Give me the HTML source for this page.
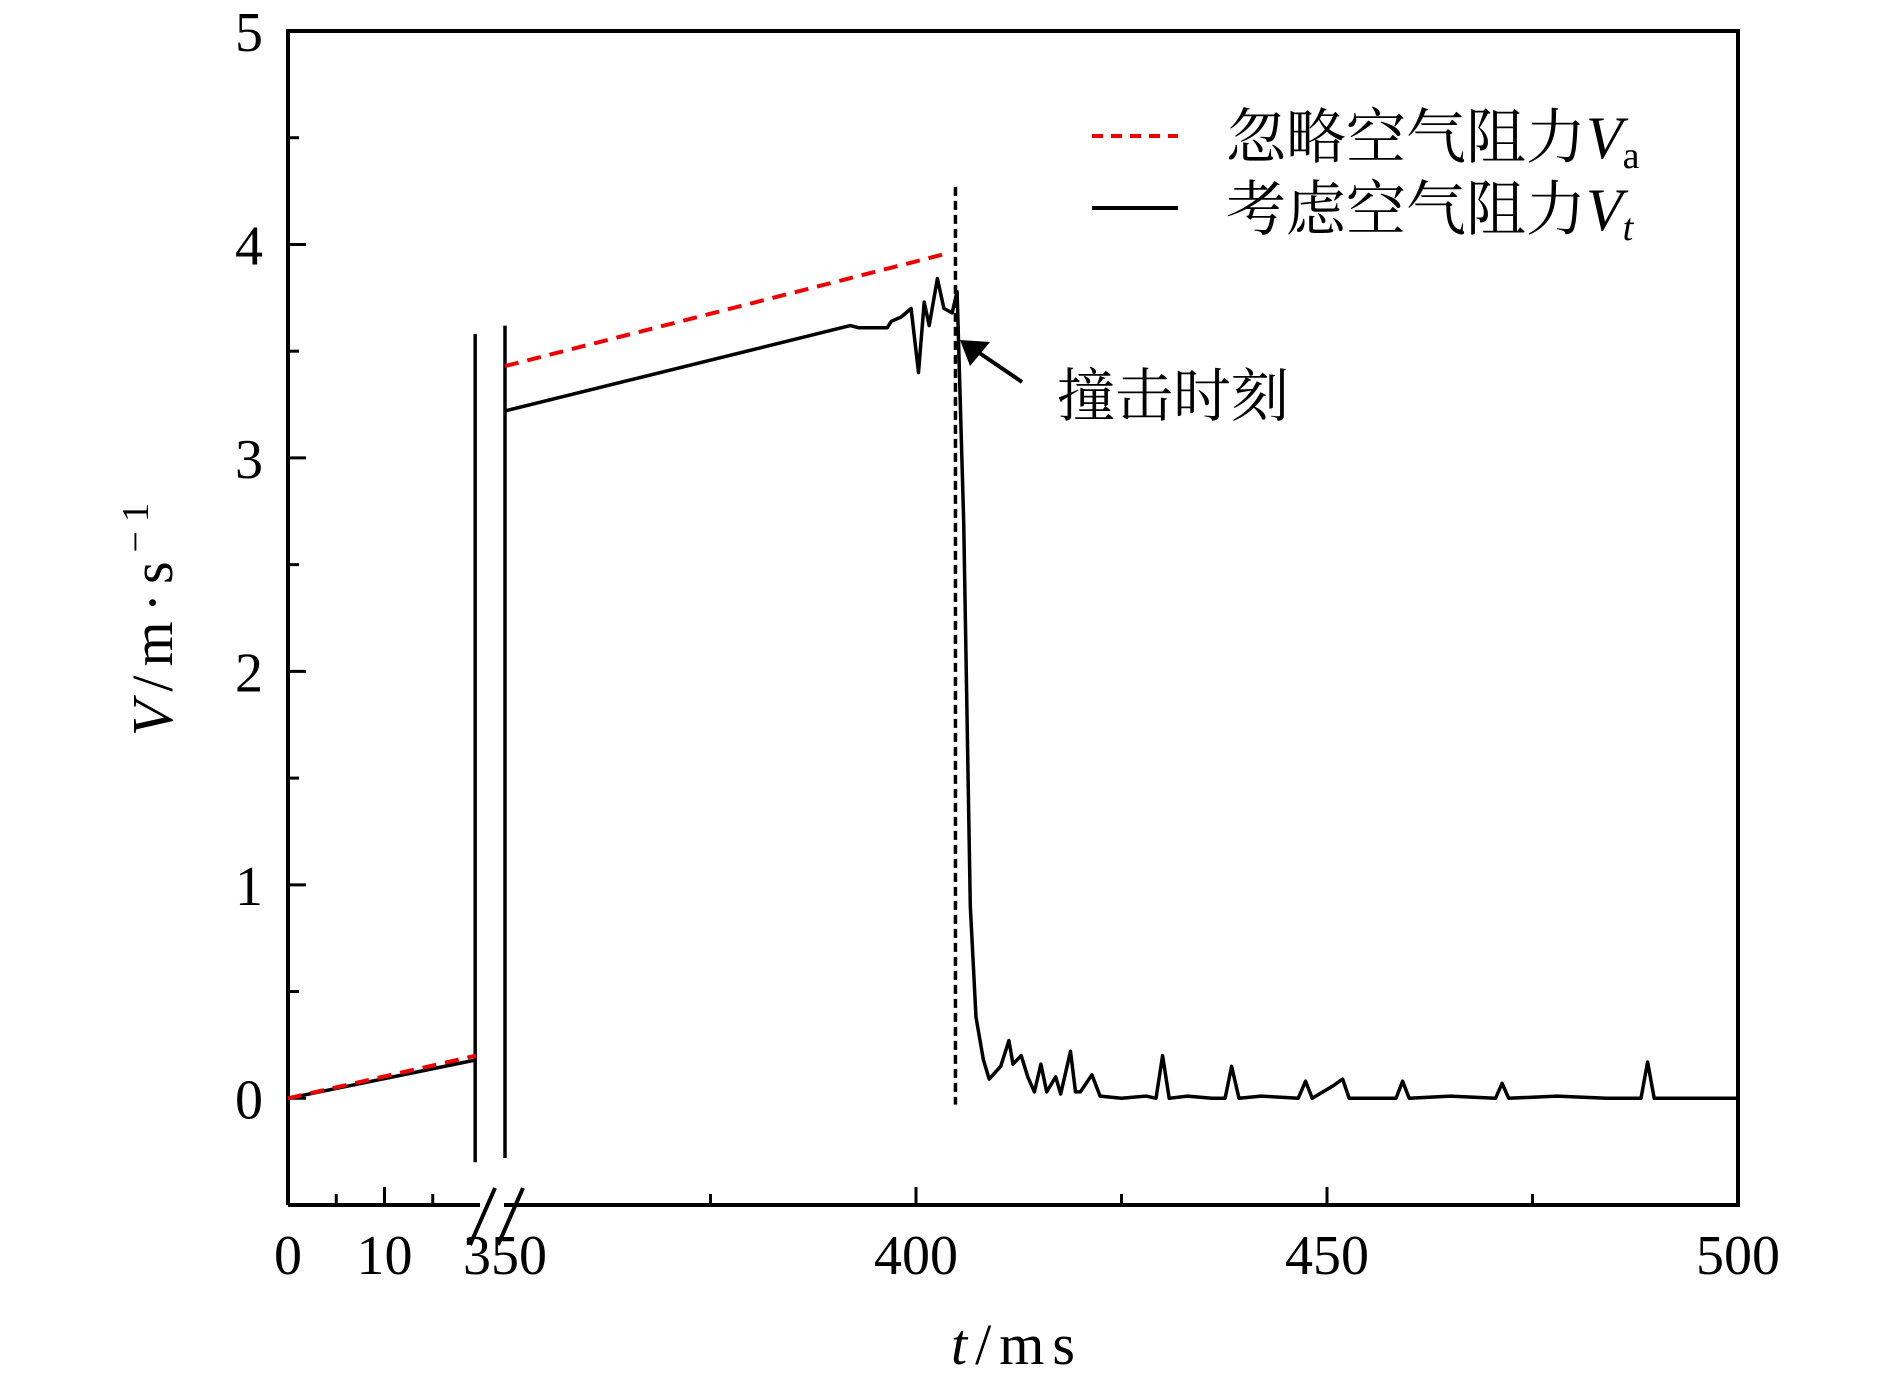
<!DOCTYPE html>
<html><head><meta charset="utf-8">
<style>
html,body{margin:0;padding:0;background:#fff;}
svg{display:block;}
text{font-family:"Liberation Serif","Noto Serif CJK SC",serif;fill:#000;}
.cjk{font-family:"Noto Serif CJK SC","Liberation Serif",serif;}
</style></head>
<body>
<svg id="chart" width="1890" height="1394" viewBox="0 0 1890 1394" xmlns="http://www.w3.org/2000/svg">
<g id="plot"></g>
</svg>
<script>
// ---- data ----
const yTicks = [0, 1, 2, 3, 4, 5];
const yMinorTicks = [0.5, 1.5, 2.5, 3.5, 4.5];
const xTicksSeg1 = [0, 10];
const xMinorSeg1 = [5, 15];
const xTicksSeg2 = [350, 400, 450, 500];
const xMinorSeg2 = [375, 425, 475];
const seg1T = [0, 19.5];
const seg1Va = [0, 0.2];
const seg1Vt = [0, 0.18];
const seg2VaT = [350, 404];
const seg2Va = [3.43, 3.96];
const vtT = [350, 392, 393, 396.5, 397, 398.2, 399.4, 400.3, 401, 401.6, 402.6, 403.4, 404.4, 405, 405.8, 406.6, 407.3, 408.2, 408.9, 410.3, 411.3, 411.8, 412.8, 413.6, 414.4, 415.2, 415.9, 417, 417.6, 418.8, 419.4, 420, 421.4, 422.4, 425, 428, 429.2, 430, 430.8, 433, 436, 437.6, 438.4, 439.3, 442, 446.5, 447.4, 448.2, 450.8, 451.9, 452.7, 458.4, 459.2, 460, 465, 470.5, 471.3, 472.1, 478, 484, 488.2, 489, 489.8, 495, 500];
const vtV = [3.22, 3.62, 3.61, 3.61, 3.64, 3.66, 3.70, 3.40, 3.73, 3.62, 3.84, 3.70, 3.68, 3.78, 2.7, 0.9, 0.38, 0.18, 0.09, 0.15, 0.27, 0.16, 0.2, 0.1, 0.03, 0.16, 0.03, 0.1, 0.02, 0.22, 0.03, 0.03, 0.11, 0.01, 0.0, 0.01, 0.0, 0.2, 0.0, 0.01, 0.0, 0.0, 0.15, 0.0, 0.01, 0.0, 0.08, 0.0, 0.06, 0.09, 0.0, 0.0, 0.08, 0.0, 0.01, 0.0, 0.07, 0.0, 0.01, 0.0, 0.0, 0.17, 0.0, 0.0, 0.0];
const impactT = 404.8;

// ---- axes ----
const L = 288, R = 1738, T = 31, B = 1205;
const yMin = -0.5, yMax = 5;
const s1x0 = 288, s1k = 9.65;
const s2x0 = 505, s2k = (R - 505) / 150;
function Y(v) { return B - (v - yMin) / (yMax - yMin) * (B - T); }
function X1(t) { return s1x0 + t * s1k; }
function X2(t) { return s2x0 + (t - 350) * s2k; }

const NS = 'http://www.w3.org/2000/svg';
const g = document.getElementById('plot');
function mk(tag, attrs, parent) {
  const e = document.createElementNS(NS, tag);
  for (const k in attrs) e.setAttribute(k, attrs[k]);
  (parent || g).appendChild(e);
  return e;
}

const frame = mk('path', {d: `M${L},${B} L${L},${T} L${R},${T} L${R},${B} L${L},${B}`, fill: 'none', stroke: '#000', 'stroke-width': 4});


const gap = mk('rect', {x: 480, y: B - 4, width: 24, height: 8, fill: '#fff'});


[[470, 1245, 495, 1188], [498, 1245, 523, 1188]].forEach(p => {
  const b = mk('line', {x1: p[0], y1: p[1], x2: p[2], y2: p[3], stroke: '#000', 'stroke-width': 4});
  
  
});

yTicks.forEach(v => {
  const tk = mk('line', {x1: L, x2: L + 18, y1: Y(v), y2: Y(v), stroke: '#000', 'stroke-width': 3});
  
  
  const tx = mk('text', {x: 263, y: Y(v) + 20, 'text-anchor': 'end', 'font-size': 56});
  tx.textContent = v;
  
  
});
yMinorTicks.forEach(v => {
  const tk = mk('line', {x1: L, x2: L + 11, y1: Y(v), y2: Y(v), stroke: '#000', 'stroke-width': 3});
  
  
});
function xtick(x, len, label) {
  const tk = mk('line', {x1: x, x2: x, y1: B, y2: B - len, stroke: '#000', 'stroke-width': 3});
  
  
  if (label !== undefined) {
    const tx = mk('text', {x: x, y: 1274, 'text-anchor': 'middle', 'font-size': 56});
    tx.textContent = label;
    
    
  }
}
xTicksSeg1.forEach(t => xtick(X1(t), t === 0 ? 0 : 18, t));
xMinorSeg1.forEach(t => xtick(X1(t), 11));
xTicksSeg2.forEach(t => xtick(X2(t), t === 350 || t === 500 ? 0 : 18, t));
xMinorSeg2.forEach(t => xtick(X2(t), 11));

[[X1(19.5) - 1, 3.58, -0.3], [X2(350), 3.62, -0.28]].forEach(p => {
  const l = mk('line', {x1: p[0], x2: p[0], y1: Y(p[1]), y2: Y(p[2]), stroke: '#000', 'stroke-width': 3.5});
  
  
});

function poly(ts, vs, fx, attrs, name) {
  const pts = ts.map((t, i) => fx(t).toFixed(1) + ',' + Y(vs[i]).toFixed(1)).join(' ');
  const p = mk('polyline', Object.assign({points: pts, fill: 'none'}, attrs));
  
  
}
poly(seg1T, seg1Vt, X1, {stroke: '#000', 'stroke-width': 3.5}, 'vt-line-seg1');
poly(seg1T, seg1Va, X1, {stroke: '#e00', 'stroke-width': 4, 'stroke-dasharray': '14 9'}, 'va-line-seg1');
poly(seg2VaT, seg2Va, X2, {stroke: '#e00', 'stroke-width': 4, 'stroke-dasharray': '14 9'}, 'va-line-seg2');
poly(vtT, vtV, X2, {stroke: '#000', 'stroke-width': 3.5, 'stroke-linejoin': 'round'}, 'vt-line-seg2');

const imp = mk('line', {x1: X2(impactT), x2: X2(impactT), y1: Y(4.27), y2: Y(-0.03), stroke: '#000', 'stroke-width': 3.5, 'stroke-dasharray': '9 5'});



const ar = mk('line', {x1: 1022, y1: 382, x2: 975, y2: 350, stroke: '#000', 'stroke-width': 4});


const ah = mk('polygon', {points: '960,340 990,342 970,366', fill: '#000'});


const ann = mk('text', {x: 1057, y: 416, 'font-size': 58, class: 'cjk'});
ann.textContent = '撞击时刻';



const leg = mk('g', {});


const l1 = mk('line', {x1: 1092, x2: 1178, y1: 136, y2: 136, stroke: '#e00', 'stroke-width': 4, 'stroke-dasharray': '11 8'}, leg);


const l2 = mk('line', {x1: 1092, x2: 1178, y1: 208, y2: 208, stroke: '#000', 'stroke-width': 4}, leg);


const t1 = mk('text', {x: 1226, y: 158, 'font-size': 60, class: 'cjk'}, leg);
t1.innerHTML = '忽略空气阻力<tspan font-style="italic" font-family="Liberation Serif">V</tspan><tspan font-size="38" dy="10" font-family="Liberation Serif">a</tspan>';


const t2 = mk('text', {x: 1226, y: 230, 'font-size': 60, class: 'cjk'}, leg);
t2.innerHTML = '考虑空气阻力<tspan font-style="italic" font-family="Liberation Serif">V</tspan><tspan font-size="38" dy="10" font-style="italic" font-family="Liberation Serif">t</tspan>';



const yt = mk('text', {x: 0, y: 0, 'font-size': 58, 'text-anchor': 'middle', 'letter-spacing': 9, transform: 'translate(172,615) rotate(-90)'});
yt.innerHTML = '<tspan font-style="italic">V</tspan>/m·s<tspan font-size="38" dy="-24">−1</tspan>';


const xt = mk('text', {x: 1017, y: 1364, 'font-size': 58, 'text-anchor': 'middle', 'letter-spacing': 8});
xt.innerHTML = '<tspan font-style="italic">t</tspan>/ms';


</script>
</body></html>
